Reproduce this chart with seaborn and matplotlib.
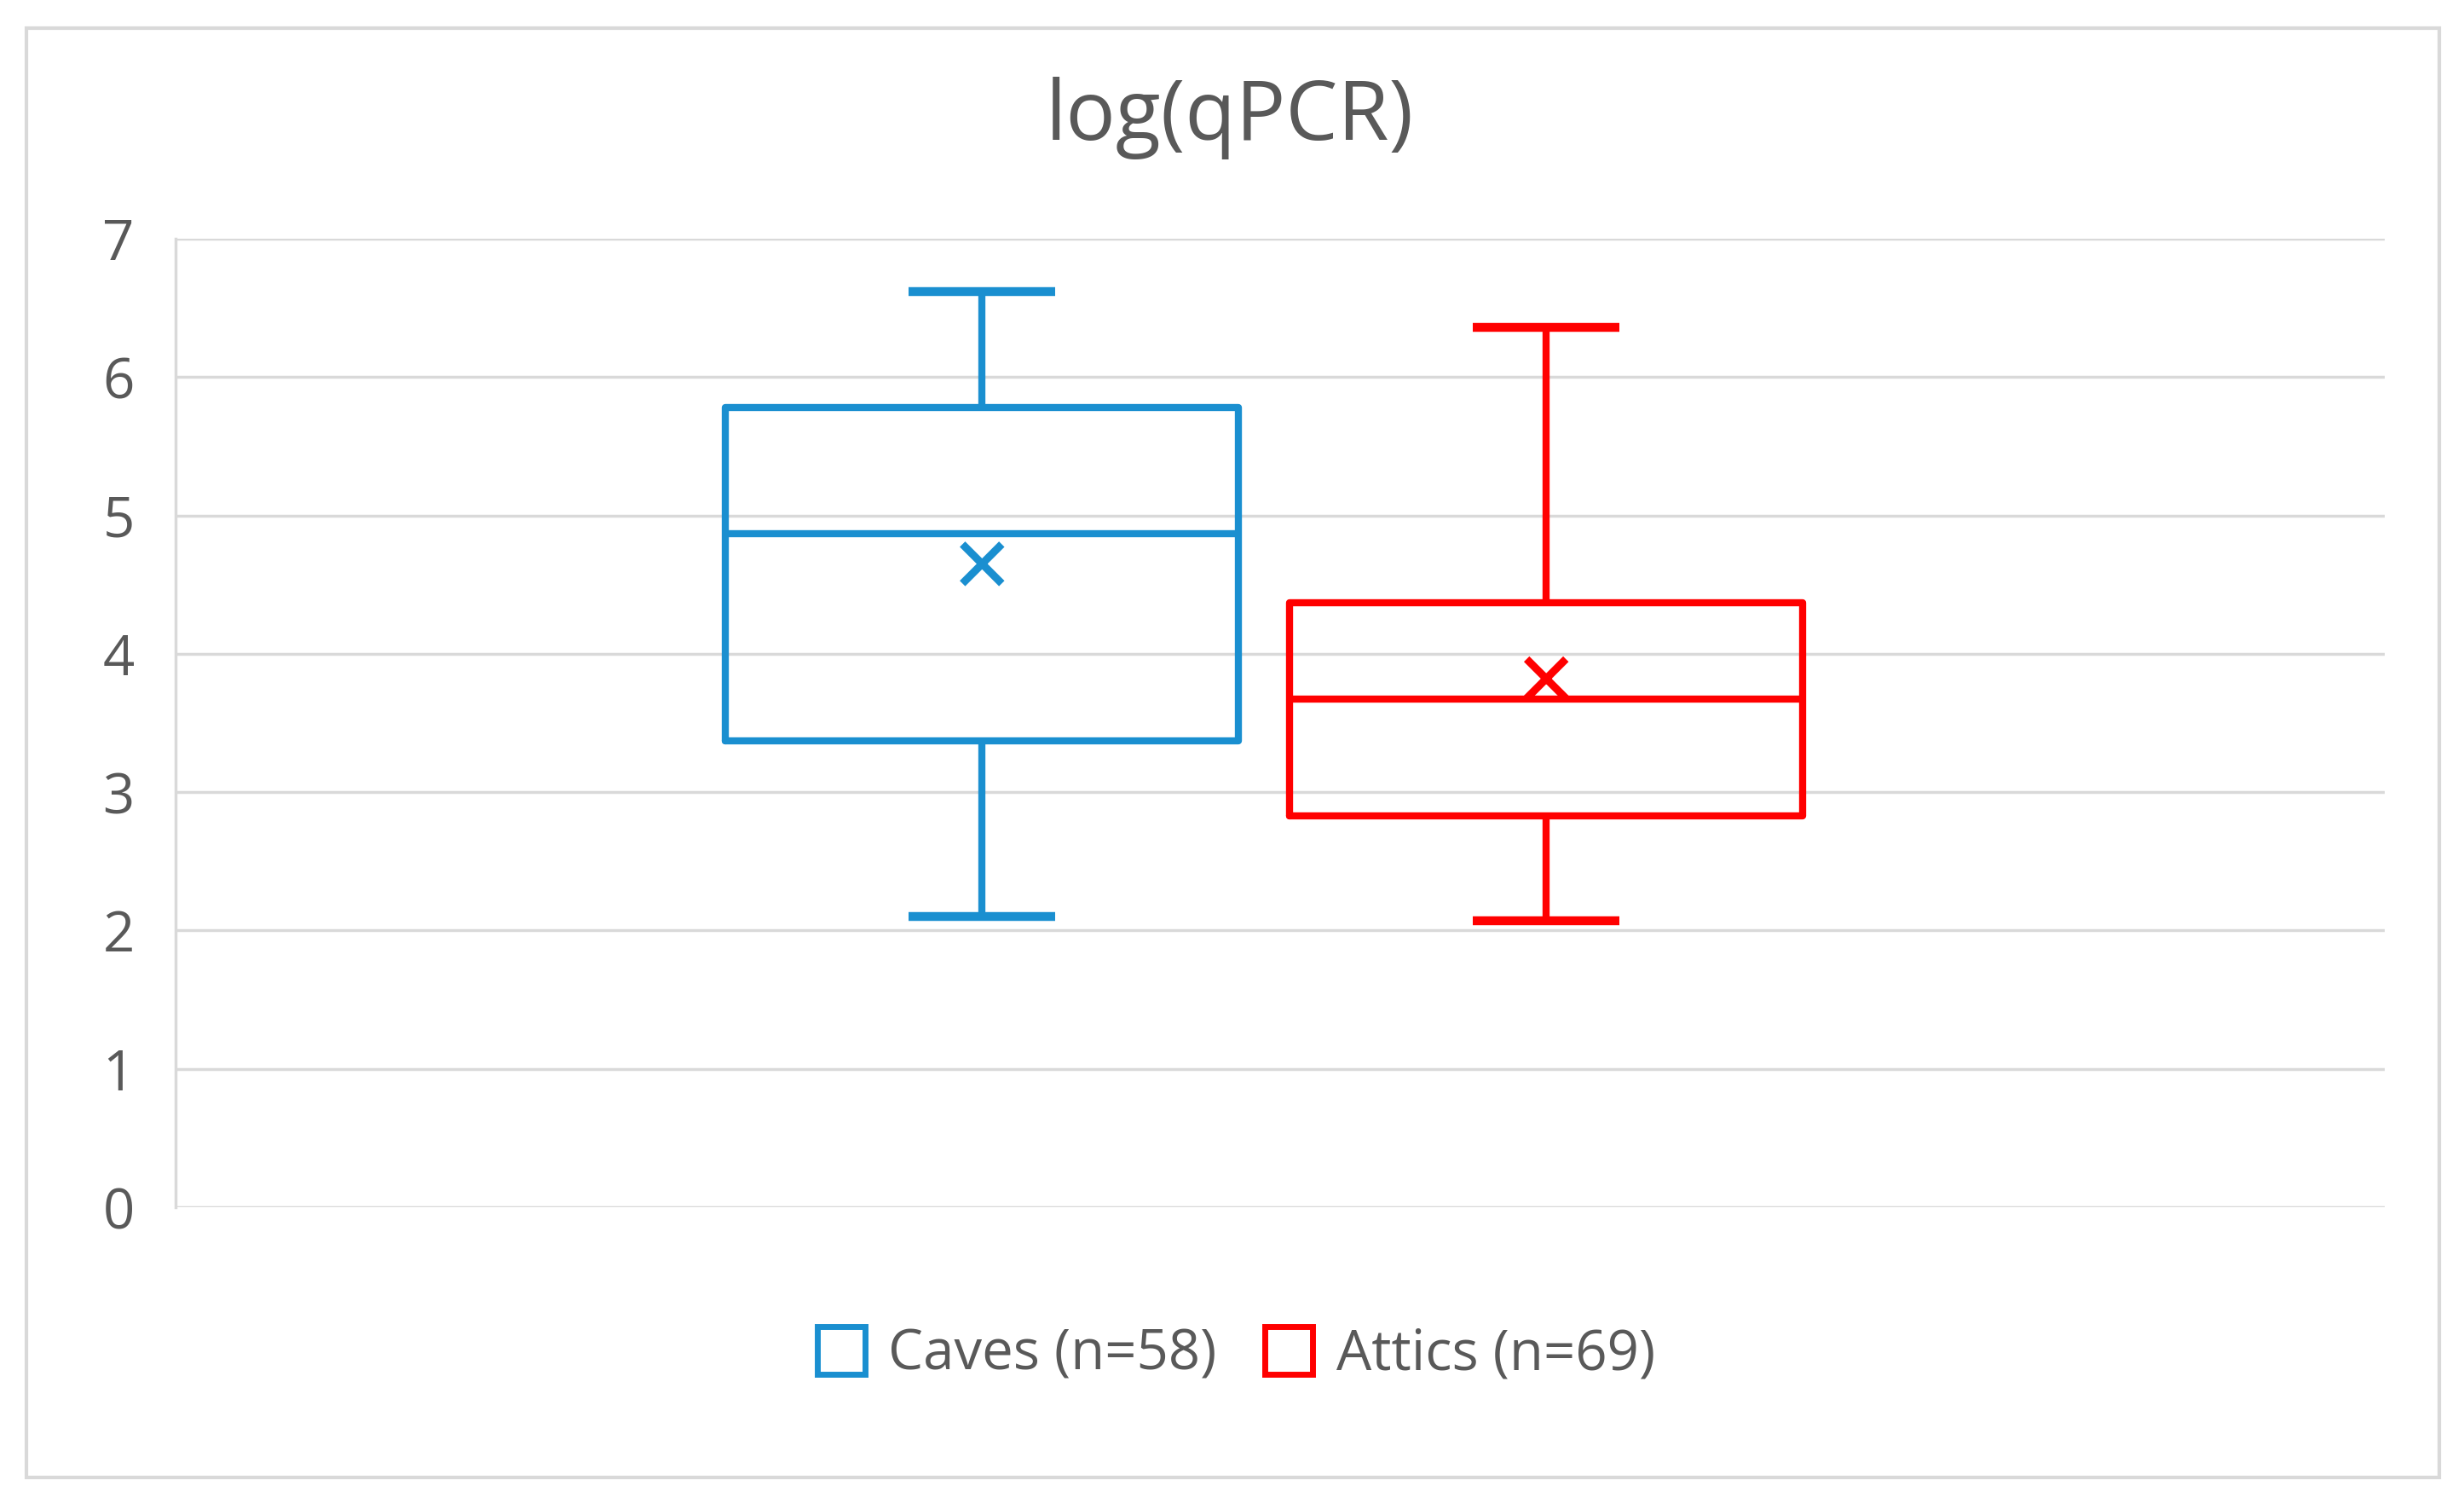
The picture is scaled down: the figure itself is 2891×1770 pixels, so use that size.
import matplotlib
matplotlib.use("Agg")
import matplotlib.pyplot as plt
from matplotlib.lines import Line2D
from matplotlib.patches import Rectangle
import pandas as pd
import seaborn as sns

# five-number summaries (min whisker, Q1, median, Q3, max whisker)
groups = ["Caves (n=58)", "Attics (n=69)"]
caves_stats = [2.10, 3.37, 4.87, 5.78, 6.62]
attics_stats = [2.07, 2.83, 3.67, 4.37, 6.36]
means = [4.65, 3.82]
colors = ["#1A8FD0", "#FF0000"]
yticks = [0, 1, 2, 3, 4, 5, 6, 7]

df = pd.DataFrame({
    "group": [groups[0]] * len(caves_stats) + [groups[1]] * len(attics_stats),
    "value": caves_stats + attics_stats,
})
mean_df = pd.DataFrame({"group": groups, "value": means})

sns.set_theme(style="white")
plt.rcParams["font.family"] = ["Open Sans", "DejaVu Sans"]
text_col = "#595959"

fig = plt.figure(figsize=(28.91, 17.70), dpi=100)
ax = fig.add_axes([0.0714, 0.2, 0.8966, 0.6418])

sns.boxplot(data=df, x="group", y="value", hue="group", palette=colors,
            fill=False, width=0.91, whis=(0, 100), linewidth=6,
            legend=False, ax=ax, zorder=3)
sns.scatterplot(data=mean_df, x="group", y="value", hue="group", palette=colors,
                marker="x", s=1100, linewidth=6.5, legend=False, ax=ax, zorder=4)

# narrow, slightly heavier whisker caps like the original
for line in ax.lines:
    xd = list(line.get_xdata())
    yd = list(line.get_ydata())
    if len(xd) == 2 and yd[0] == yd[1] and abs(xd[1] - xd[0]) < 0.6:
        c = (xd[0] + xd[1]) / 2
        line.set_xdata([c - 0.13, c + 0.13])
        line.set_solid_capstyle("butt")
        line.set_linewidth(7.5)

ax.set_xlim(-1.429, 2.487)
ax.set_ylim(0, 7)
ax.set_yticks(yticks)
ax.set_yticklabels([str(t) for t in yticks])
ax.set_xticks([])
ax.set_xlabel("")
ax.set_ylabel("")
ax.grid(axis="y", color="#D9D9D9", linewidth=2.5, zorder=0)
ax.set_axisbelow(True)
for s in ["top", "right", "bottom"]:
    ax.spines[s].set_visible(False)
ax.spines["left"].set_color("#D9D9D9")
ax.spines["left"].set_linewidth(2.5)
ax.tick_params(axis="y", length=0, pad=35, labelsize=47, labelcolor=text_col)

fig.text(0.499, 0.922, "log(qPCR)", ha="center", va="center",
         fontsize=70, color=text_col)

handles = [Line2D([], [], linestyle="none", marker="s", markersize=40,
                  markerfacecolor="white", markeredgecolor=c, markeredgewidth=5)
           for c in colors]
fig.legend(handles, groups, loc="center", bbox_to_anchor=(0.502, 0.102),
           ncol=2, frameon=False, fontsize=47, labelcolor=text_col,
           handlelength=0.8, handletextpad=0.45, columnspacing=0.9)

fig.patches.append(Rectangle((31 / 2891, 1 - 1733 / 1770), (2862 - 31) / 2891,
                             (1733 - 33) / 1770, transform=fig.transFigure,
                             fill=False, edgecolor="#D9D9D9", linewidth=3))

fig.savefig("out.png", dpi=100, facecolor="white")
